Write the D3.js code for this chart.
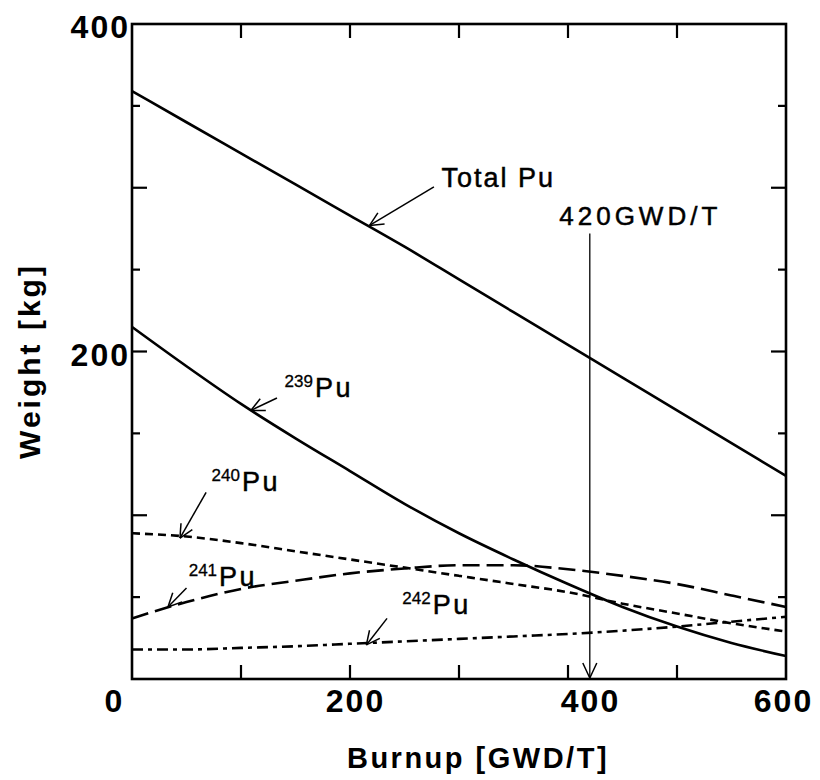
<!DOCTYPE html>
<html>
<head>
<meta charset="utf-8">
<script src="https://cdn.jsdelivr.net/npm/d3@7"></script>
<style>
  html, body { margin: 0; padding: 0; background: #fff; }
  svg { display: block; }
  text { font-family: "Liberation Sans", Arial, Helvetica, sans-serif; fill: #000; }
  .ann { stroke: #000; stroke-width: 0.5px; }
</style>
</head>
<body>
<div id="chart"></div>
<script>
// ---- data ----
const burnup = [0, 50, 100, 150, 200, 250, 300, 350, 400, 450, 500, 550, 600];
const totalPu = [359, 340, 321, 302, 283, 264, 244, 224, 204, 184, 164, 144, 124];
const pu239   = [215, 191, 168, 147, 127, 107, 89, 73, 58, 44, 32, 22, 14];
const pu240   = [89, 87, 83, 78, 73, 68, 63, 58, 53, 46, 40, 34, 29];
const pu241   = [37, 47, 55, 60, 64.5, 67.5, 69.5, 69.5, 67, 63, 58, 51, 44];
const pu242   = [18, 18, 19, 20, 21.5, 23, 24.5, 26, 27.5, 29.5, 32, 35, 38];
const xTickLabels = [0, 200, 400, 600];
const yTickLabels = [200, 400];
const markerBurnup = 420;

const W = 820, H = 780;
const M = { left: 132, right: 786, top: 24, bottom: 679 };

const svg = d3.select("#chart").append("svg").attr("width", W).attr("height", H);
svg.append("rect").attr("width", W).attr("height", H).attr("fill", "#fff");

const x = d3.scaleLinear().domain([0, 600]).range([M.left, M.right]);
const y = d3.scaleLinear().domain([0, 400]).range([M.bottom, M.top]);

// ---- ticks (inside) ----
const gT = svg.append("g").attr("stroke", "#000").attr("stroke-width", 2.2);
d3.range(100, 600, 100).forEach(v => {
  gT.append("line").attr("x1", x(v)).attr("x2", x(v)).attr("y1", M.bottom).attr("y2", M.bottom - 14);
  gT.append("line").attr("x1", x(v)).attr("x2", x(v)).attr("y1", M.top).attr("y2", M.top + 14);
});
d3.range(50, 400, 50).forEach(v => {
  const len = (v % 100 === 0) ? 15 : 8;
  gT.append("line").attr("y1", y(v)).attr("y2", y(v)).attr("x1", M.left).attr("x2", M.left + len);
  gT.append("line").attr("y1", y(v)).attr("y2", y(v)).attr("x1", M.right).attr("x2", M.right - len);
});

// ---- frame ----
svg.append("rect")
  .attr("x", M.left).attr("y", M.top)
  .attr("width", M.right - M.left).attr("height", M.bottom - M.top)
  .attr("fill", "none").attr("stroke", "#000").attr("stroke-width", 2.6);

// ---- tick labels ----
const xLabelShift = { 0: -18, 200: 5, 400: 22, 600: -3 };
const xAx = svg.append("g").attr("transform", `translate(0,${M.bottom})`)
  .call(d3.axisBottom(x).tickValues(xTickLabels).tickSize(0).tickFormat(d3.format("d")));
xAx.select(".domain").remove();
xAx.selectAll("text")
  .attr("y", 33).attr("dy", 0)
  .attr("dx", d => xLabelShift[d])
  .style("font-size", "32px").style("font-weight", "bold").style("letter-spacing", "2px")
  .style("font-family", "'Liberation Sans', Arial, sans-serif");

const yAx = svg.append("g").attr("transform", `translate(${M.left},0)`)
  .call(d3.axisLeft(y).tickValues(yTickLabels).tickSize(0).tickFormat(d3.format("d")));
yAx.select(".domain").remove();
yAx.selectAll("text")
  .attr("x", -2).attr("dy", "0.36em").attr("dx", 0)
  .attr("transform", "translate(0,2)")
  .style("font-size", "32px").style("font-weight", "bold").style("letter-spacing", "2px")
  .style("font-family", "'Liberation Sans', Arial, sans-serif");

// ---- axis titles ----
svg.append("text")
  .attr("x", 478).attr("y", 768).attr("text-anchor", "middle")
  .style("font-size", "29px").style("font-weight", "bold").style("letter-spacing", "2.5px")
  .text("Burnup [GWD/T]");
svg.append("text")
  .attr("transform", "translate(40,361) rotate(-90)").attr("text-anchor", "middle")
  .style("font-size", "30px").style("font-weight", "bold").style("letter-spacing", "3px")
  .text("Weight [kg]");

// ---- curves ----
const line = d3.line().x(d => x(d[0])).y(d => y(d[1])).curve(d3.curveMonotoneX);
const series = [
  { vals: totalPu, dash: null },
  { vals: pu239, dash: null },
  { vals: pu240, dash: "8,5" },
  { vals: pu241, dash: "17,7" },
  { vals: pu242, dash: "11,5,4,5" }
];
series.forEach(s => {
  svg.append("path")
    .attr("d", line(burnup.map((b, i) => [b, s.vals[i]])))
    .attr("fill", "none").attr("stroke", "#000").attr("stroke-width", 2.6)
    .attr("stroke-dasharray", s.dash);
});

// ---- annotations ----
function arrow(x1, y1, x2, y2, head) {
  const ang = Math.atan2(y2 - y1, x2 - x1);
  const g = svg.append("g").attr("stroke", "#000").attr("stroke-width", 1.5).attr("fill", "none");
  g.append("line").attr("x1", x1).attr("y1", y1).attr("x2", x2).attr("y2", y2);
  [0.45, -0.45].forEach(a => {
    g.append("line").attr("x1", x2).attr("y1", y2)
      .attr("x2", x2 - head * Math.cos(ang + a))
      .attr("y2", y2 - head * Math.sin(ang + a));
  });
}

// Total Pu
arrow(x(277), y(300.5), x(218), y(277), 15);
svg.append("text").attr("class", "ann").attr("x", x(284)).attr("y", y(300.5))
  .style("font-size", "27px").style("letter-spacing", "2px").text("Total Pu");

// isotope labels with superscripts
const isoLabels = [
  { mass: "239", tx: 140, ty: 172, from: [133, 171.6], to: [109, 164] },
  { mass: "240", tx: 73, ty: 115, from: [68, 114], to: [44, 86] },
  { mass: "241", tx: 52, ty: 57, from: [50, 55.6], to: [33, 44] },
  { mass: "242", tx: 248, ty: 40, from: [234, 37], to: [215, 20.8] }
];
isoLabels.forEach(l => {
  const t = svg.append("text").attr("class", "ann").attr("x", x(l.tx)).attr("y", y(l.ty));
  t.append("tspan").attr("dy", -10).style("font-size", "17px").style("stroke-width", "0.3px").text(l.mass);
  t.append("tspan").attr("dy", 10).attr("dx", 2).style("font-size", "27px").style("letter-spacing", "2.5px").text("Pu");
  arrow(x(l.from[0]), y(l.from[1]), x(l.to[0]), y(l.to[1]), 15);
});

// 420 GWD/T marker
svg.append("line")
  .attr("x1", x(markerBurnup)).attr("x2", x(markerBurnup))
  .attr("y1", y(272)).attr("y2", M.bottom - 1)
  .attr("stroke", "#000").attr("stroke-width", 1.3);
svg.append("path")
  .attr("d", `M${x(markerBurnup) - 7},${M.bottom - 16} L${x(markerBurnup)},${M.bottom - 1} L${x(markerBurnup) + 7},${M.bottom - 16}`)
  .attr("fill", "none").attr("stroke", "#000").attr("stroke-width", 1.5);
svg.append("text").attr("class", "ann").attr("x", x(392)).attr("y", y(277))
  .style("font-size", "26px").style("letter-spacing", "4px").text(markerBurnup + "GWD/T");
</script>
</body>
</html>
